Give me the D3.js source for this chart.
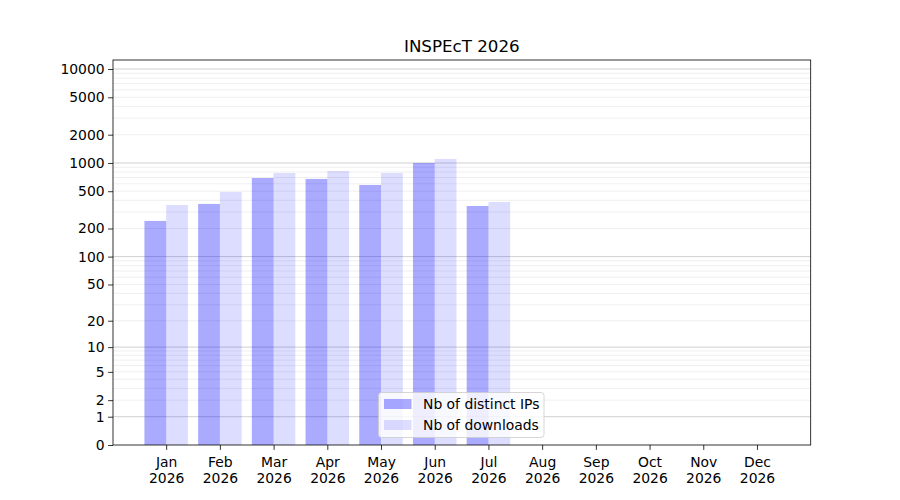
<!DOCTYPE html>
<html lang="en">
  <head>
    <meta charset="utf-8">
    <title>INSPEcT 2026</title>
    <script src="https://cdn.jsdelivr.net/npm/d3@7"></script>
    <style>
      body { margin: 0; background: #fff; }
      text { font-family: "DejaVu Sans", sans-serif; }
    </style>
  </head>
  <body>
    <script>
    var months = ["Jan", "Feb", "Mar", "Apr", "May", "Jun", "Jul", "Aug", "Sep", "Oct", "Nov", "Dec"];
    var year = "2026";
    var ips = [241, 366, 692, 676, 583, 1000, 348];
    var downloads = [357, 491, 783, 822, 783, 1104, 384];
    var yTicks = [0, 1, 2, 5, 10, 20, 50, 100, 200, 500, 1000, 2000, 5000, 10000];
    var yMax = 12470;

    var w = 900, h = 500;
    // plot box (note: "top" is reserved on window, so use p* names)
    var pLeft = 113, pRight = 810.7, pTop = 60, pBottom = 445;

    var svg = d3.select("body").append("svg").attr("width", w).attr("height", h);

    var x = d3.scaleLinear().domain([-0.99, 12.0]).range([pLeft, pRight]);
    var y = d3.scaleSymlog().constant(1).domain([0, yMax]).range([pBottom, pTop]);

    // grid: light minor lines, then darker lines at decades
    var minor = [];
    [1, 10, 100, 1000].forEach(function(d) {
      for (var k = 2; k <= 9; k++) minor.push(k * d);
    });
    svg.append("g").selectAll("line").data(minor).enter().append("line")
      .attr("x1", pLeft).attr("x2", pRight)
      .attr("y1", function(d) { return y(d); }).attr("y2", function(d) { return y(d); })
      .attr("stroke", "#ebebeb").attr("stroke-width", 0.8);
    svg.append("g").selectAll("line").data([1, 10, 100, 1000, 10000]).enter().append("line")
      .attr("x1", pLeft).attr("x2", pRight)
      .attr("y1", function(d) { return y(d); }).attr("y2", function(d) { return y(d); })
      .attr("stroke", "#c4c4c4").attr("stroke-width", 0.8);

    var bw = x(0.405) - x(0);

    svg.append("g").selectAll("rect").data(ips).enter().append("rect")
      .attr("x", function(d, i) { return x(i) - bw; })
      .attr("y", function(d) { return y(d); })
      .attr("width", bw)
      .attr("height", function(d) { return y(0) - y(d); })
      .attr("fill", "blue").attr("fill-opacity", 0.333);

    svg.append("g").selectAll("rect").data(downloads).enter().append("rect")
      .attr("x", function(d, i) { return x(i); })
      .attr("y", function(d) { return y(d); })
      .attr("width", bw)
      .attr("height", function(d) { return y(0) - y(d); })
      .attr("fill", "blue").attr("fill-opacity", 0.135);

    // axes
    var yAxis = svg.append("g").attr("transform", "translate(" + pLeft + ",0)")
      .call(d3.axisLeft(y).tickValues(yTicks).tickFormat(d3.format("d")).tickSize(4.9).tickPadding(3.5));
    yAxis.select(".domain").remove();
    yAxis.selectAll("line").attr("stroke", "#000").attr("stroke-width", 0.8);
    yAxis.selectAll("text").attr("font-size", "13.9px").attr("fill", "#000")
      .attr("font-family", "DejaVu Sans");

    var xAxis = svg.append("g").attr("transform", "translate(0," + pBottom + ")")
      .call(d3.axisBottom(x).tickValues(d3.range(months.length)).tickFormat("").tickSize(4.9));
    xAxis.select(".domain").remove();
    xAxis.selectAll("line").attr("stroke", "#000").attr("stroke-width", 0.8);
    var lab = xAxis.selectAll(".tick").append("text")
      .attr("fill", "#000").attr("font-size", "13.9px").attr("text-anchor", "middle")
      .attr("font-family", "DejaVu Sans");
    lab.append("tspan").attr("x", 0).attr("y", 22).text(function(d) { return months[d]; });
    lab.append("tspan").attr("x", 0).attr("y", 38).text(year);

    svg.append("rect").attr("x", pLeft).attr("y", pTop)
      .attr("width", pRight - pLeft).attr("height", pBottom - pTop)
      .attr("fill", "none").attr("stroke", "#000").attr("stroke-width", 0.8);

    svg.append("text").attr("x", (pLeft + pRight) / 2).attr("y", 52)
      .attr("text-anchor", "middle").attr("font-size", "16.7px").attr("fill", "#000")
      .text("INSPEcT 2026");

    // legend
    var lg = svg.append("g").attr("transform", "translate(378.5,392.5)");
    lg.append("rect").attr("width", 165.5).attr("height", 45).attr("rx", 3)
      .attr("fill", "#fff").attr("fill-opacity", 0.8)
      .attr("stroke", "#cccccc").attr("stroke-width", 0.8);
    var items = [["Nb of distinct IPs", 0.333], ["Nb of downloads", 0.135]];
    items.forEach(function(it, i) {
      lg.append("rect").attr("x", 5.5).attr("y", 6.5 + i * 21).attr("width", 27.5).attr("height", 10)
        .attr("fill", "blue").attr("fill-opacity", it[1]);
      lg.append("text").attr("x", 44.5).attr("y", 16.5 + i * 21)
        .attr("font-size", "13.9px").attr("fill", "#000").text(it[0]);
    });
    </script>
  </body>
</html>
